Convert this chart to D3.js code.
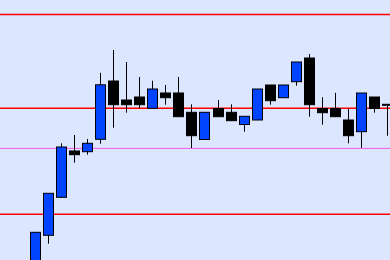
<!DOCTYPE html>
<html>
<head>
<meta charset="utf-8">
<script src="https://cdn.jsdelivr.net/npm/d3@7"></script>
<style>
  html, body { margin: 0; padding: 0; background: #dce6ff; overflow: hidden; }
  svg { display: block; }
</style>
</head>
<body>
<svg id="chart" width="390" height="260"></svg>
<script>
// Candle data (index order, left to right)
const opens  = [98.50, 102.47, 106.27, 110.90, 110.83, 112.07, 117.90, 116.00, 116.30, 115.17, 116.70, 116.70, 114.77, 112.05, 115.15, 114.77, 113.55, 114.00, 117.50, 116.23, 117.83, 120.20, 115.15, 115.15, 114.00, 112.83, 116.30, 115.57];
const highs  = [102.77, 106.67, 111.67, 112.50, 112.10, 118.72, 121.00, 119.80, 118.30, 117.93, 117.50, 118.30, 115.57, 114.77, 116.00, 115.57, 114.37, 117.10, 117.50, 117.50, 119.80, 120.60, 116.28, 116.72, 115.13, 116.70, 116.30, 115.57];
const lows   = [97.50, 101.63, 106.27, 109.73, 110.53, 111.63, 113.23, 114.73, 115.17, 115.17, 115.53, 114.33, 111.20, 112.05, 114.33, 113.93, 112.83, 114.00, 115.53, 116.23, 117.43, 114.33, 113.53, 114.33, 111.67, 111.22, 114.73, 112.43];
const closes = [102.77, 106.67, 111.30, 110.53, 111.67, 117.52, 115.53, 115.53, 115.53, 117.10, 116.23, 114.33, 112.43, 114.77, 114.33, 113.93, 114.37, 117.10, 115.93, 117.50, 119.80, 115.53, 114.73, 114.33, 112.43, 116.70, 115.15, 115.57];

// Horizontal level lines
const redLevels = [124.55, 115.17, 104.57];
const magentaLevels = [111.16];

const W = 390, H = 260;
const svg = d3.select("#chart");

const candles = opens.map((o, i) => ({ i, o, h: highs[i], l: lows[i], c: closes[i] }));

const x = d3.scaleLinear().domain([0, opens.length - 1]).range([35.5, 387.5]);
const y = d3.scaleLinear().domain([100, 126]).range([H, 0]);
const cx = i => Math.round(x(i) - 0.5) + 0.5;

svg.append("rect").attr("width", W).attr("height", H).attr("fill", "#dce6ff");

// level lines
svg.selectAll("line.red").data(redLevels).join("line")
  .attr("class", "red")
  .attr("x1", 0).attr("x2", W)
  .attr("y1", d => y(d)).attr("y2", d => y(d))
  .attr("stroke", "#ff0000").attr("stroke-width", 1.5);

svg.selectAll("line.mag").data(magentaLevels).join("line")
  .attr("class", "mag")
  .attr("x1", 0).attr("x2", W)
  .attr("y1", d => y(d)).attr("y2", d => y(d))
  .attr("stroke", "#f05af0").attr("stroke-width", 1);

const g = svg.selectAll("g.candle").data(candles).join("g").attr("class", "candle");

g.append("line")
  .attr("x1", d => cx(d.i)).attr("x2", d => cx(d.i))
  .attr("y1", d => y(d.h)).attr("y2", d => y(d.l))
  .attr("stroke", "#000").attr("stroke-width", 1);

g.append("rect")
  .attr("x", d => cx(d.i) - 5)
  .attr("width", 10)
  .attr("y", d => y(Math.max(d.o, d.c)))
  .attr("height", d => Math.max(1, Math.abs(y(d.o) - y(d.c))))
  .attr("fill", d => d.c > d.o ? "#0044ff" : "#000")
  .attr("stroke", "#000").attr("stroke-width", 1);
</script>
</body>
</html>
